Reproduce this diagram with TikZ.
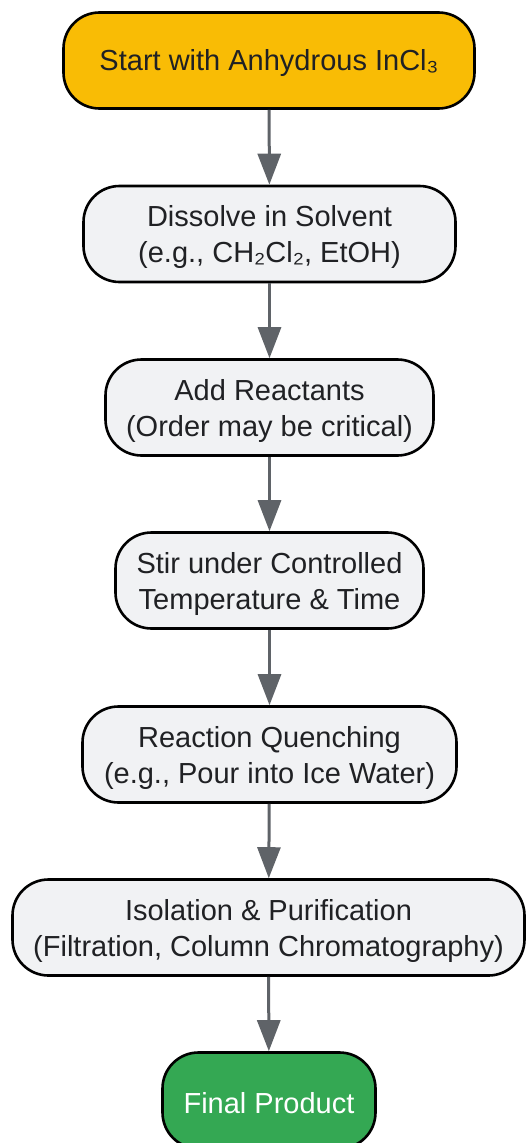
\documentclass[tikz,border=0pt]{standalone}
\usepackage{fontspec}
\setmainfont{Liberation Sans}
\usetikzlibrary{arrows.meta}
\definecolor{startc}{HTML}{F9BC05}
\definecolor{stepc}{HTML}{F1F2F4}
\definecolor{endc}{HTML}{34A853}
\definecolor{txt}{HTML}{202124}
\definecolor{arr}{HTML}{5F6368}
\begin{document}
\begin{tikzpicture}[x=1pt,y=-1pt,
  box/.style={draw=black, line width=2.6pt, rounded corners=36pt, minimum height=96pt,
    inner sep=0pt},
  lbl/.style={align=center, inner sep=0pt, text=txt, yshift=-3pt,
    font=\fontsize{29}{36}\selectfont},
  stepbox/.style={box, fill=stepc},
  flow/.style={draw=arr, line width=3pt, -{Triangle[length=31pt,width=23pt]}}]
\useasboundingbox (0,0) rectangle (526,1143);
\node[box, fill=startc, minimum width=411pt,
  label={[lbl]center:Start with Anhydrous InCl₃}] (s) at (269,60.5) {};
\node[stepbox, minimum width=372pt,
  label={[lbl]center:Dissolve in Solvent\\(e.g., CH₂Cl₂, EtOH)}] (d) at (269.5,234) {};
\node[stepbox, minimum width=328pt,
  label={[lbl]center:Add Reactants\\(Order may be critical)}] (a) at (269.5,407.5) {};
\node[stepbox, minimum width=308pt,
  label={[lbl]center:Stir under Controlled\\Temperature \& Time}] (t) at (269.5,580.5) {};
\node[stepbox, minimum width=374pt,
  label={[lbl]center:Reaction Quenching\\(e.g., Pour into Ice Water)}] (q) at (269.5,754.5) {};
\node[stepbox, minimum width=512pt,
  label={[lbl]center:Isolation \& Purification\\(Filtration, Column Chromatography)}] (i) at (268.5,927.5) {};
\node[box, fill=endc, minimum width=213pt,
  label={[lbl,text=white]center:Final Product}] (f) at (269,1100.5) {};
\draw[flow] (s) -- (d);
\draw[flow] (d) -- (a);
\draw[flow] (a) -- (t);
\draw[flow] (t) -- (q);
\draw[flow] (q) -- (i);
\draw[flow] (i) -- (f);
\end{tikzpicture}
\end{document}
